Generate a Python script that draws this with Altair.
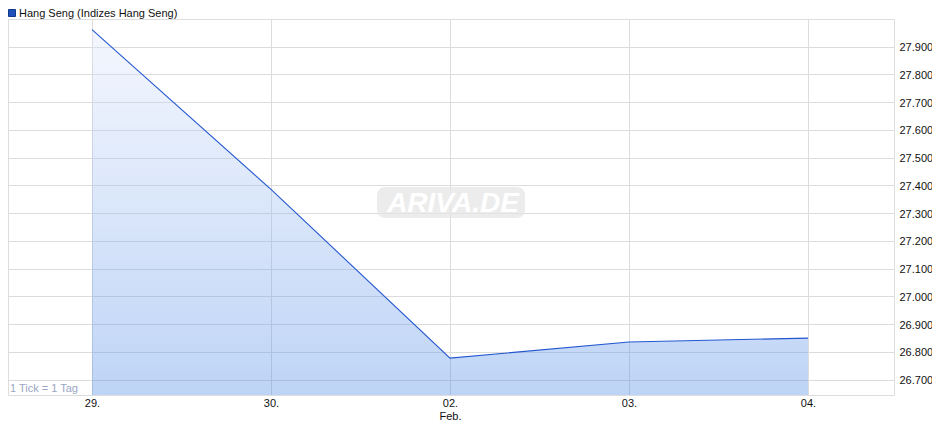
import altair as alt
import pandas as pd

# ---- data ----
DAY_IDX = [0, 1, 2, 3, 4]
DAY_LABELS = ["29.", "30.", "02.", "03.", "04."]
MONTH_LABELS = ["", "", "Feb.", "", ""]
VALUES = [27962, 27386, 26778, 26836, 26850]
Y_TICKS = [26700, 26800, 26900, 27000, 27100, 27200, 27300, 27400, 27500, 27600, 27700, 27800, 27900]
Y_DOMAIN = [26645, 28000]
X_DOMAIN = [-0.4693, 4.4804]
SERIES_NAME = "Hang Seng (Indizes Hang Seng)"
NOTE = "1 Tick = 1 Tag"
WATERMARK = "ARIVA.DE"

W, H = 886, 376
FONT = "Liberation Sans"

df = pd.DataFrame({"idx": DAY_IDX, "value": VALUES})
one = pd.DataFrame({"k": [0]})

label_expr = (
    "[" + ",".join(
        "[" + ",".join(f"'{s}'" for s in ([d] + ([m] if m else []))) + "]"
        for d, m in zip(DAY_LABELS, MONTH_LABELS)
    ) + "][datum.value]"
)

x_enc = alt.X(
    "idx:Q",
    scale=alt.Scale(domain=X_DOMAIN, nice=False, zero=False),
    axis=alt.Axis(
        values=DAY_IDX, labelExpr=label_expr, title=None, ticks=False, domain=False,
        grid=True, gridColor="#dcdcdc", labelPadding=2, labelFontSize=11,
        labelColor="#111", labelFont=FONT, labelLineHeight=13, labelBaseline="top",
        labelOverlap=False, labelFlush=False,
    ),
)
y_enc = alt.Y(
    "value:Q",
    scale=alt.Scale(domain=Y_DOMAIN, nice=False, zero=False),
    axis=alt.Axis(
        orient="right", values=Y_TICKS, tickCount=len(Y_TICKS),
        labelExpr="replace(format(datum.value, ',.0f'), ',', '.')",
        title=None, ticks=False, domain=False, grid=True, gridColor="#dcdcdc",
        labelPadding=5, labelFontSize=11, labelColor="#111", labelFont=FONT,
        labelOffset=1, labelOverlap=False, labelFlush=False,
    ),
)

base = alt.Chart(df).encode(x=x_enc, y=y_enc)

# watermark
wm_box = alt.Chart(one).mark_rect(color="#e6e6e6", opacity=0.75, cornerRadius=8).encode(
    x=alt.value(369), x2=alt.value(517), y=alt.value(168), y2=alt.value(199)
)
wm_text = alt.Chart(one).mark_text(
    text=WATERMARK, font=FONT, fontSize=28, fontStyle="italic", fontWeight="bold",
    color="white", align="center", baseline="middle",
).encode(x=alt.value(445), y=alt.value(185))

area = base.mark_area(
    fillOpacity=0.35,
    color=alt.Gradient(
        gradient="linear",
        stops=[alt.GradientStop(color="#e0e8fc", offset=0),
               alt.GradientStop(color="#4584e5", offset=1)],
        x1=0, x2=0, y1=0, y2=1,
    ),
).encode(y2=alt.datum(Y_DOMAIN[0]))

line = base.mark_line(color="#2457d0", strokeWidth=1.1)

note = alt.Chart(one).mark_text(
    text=NOTE, font=FONT, fontSize=11, color="#9aa6c2", align="left", baseline="alphabetic"
).encode(x=alt.value(2), y=alt.value(373))

legend_sq = alt.Chart(one).mark_rect(color="#1f4fb8", stroke="#123a8a", strokeWidth=1).encode(
    x=alt.value(0.5), x2=alt.value(7.5), y=alt.value(-9.5), y2=alt.value(-2.5)
)
legend_txt = alt.Chart(one).mark_text(
    text=SERIES_NAME, font=FONT, fontSize=11, color="#111", align="left", baseline="alphabetic"
).encode(x=alt.value(11), y=alt.value(-2.5))

chart = alt.layer(wm_box, wm_text, area, line, note, legend_sq, legend_txt).properties(
    width=W, height=H,
    autosize=alt.AutoSizeParams(type="none"),
    padding={"left": 0, "top": 11, "right": 38, "bottom": 26},
).configure_view(stroke="#d3d3d3", strokeWidth=1).configure(font=FONT, background="white")

chart.save("out.html", embed_options={"renderer": "svg", "actions": False})
